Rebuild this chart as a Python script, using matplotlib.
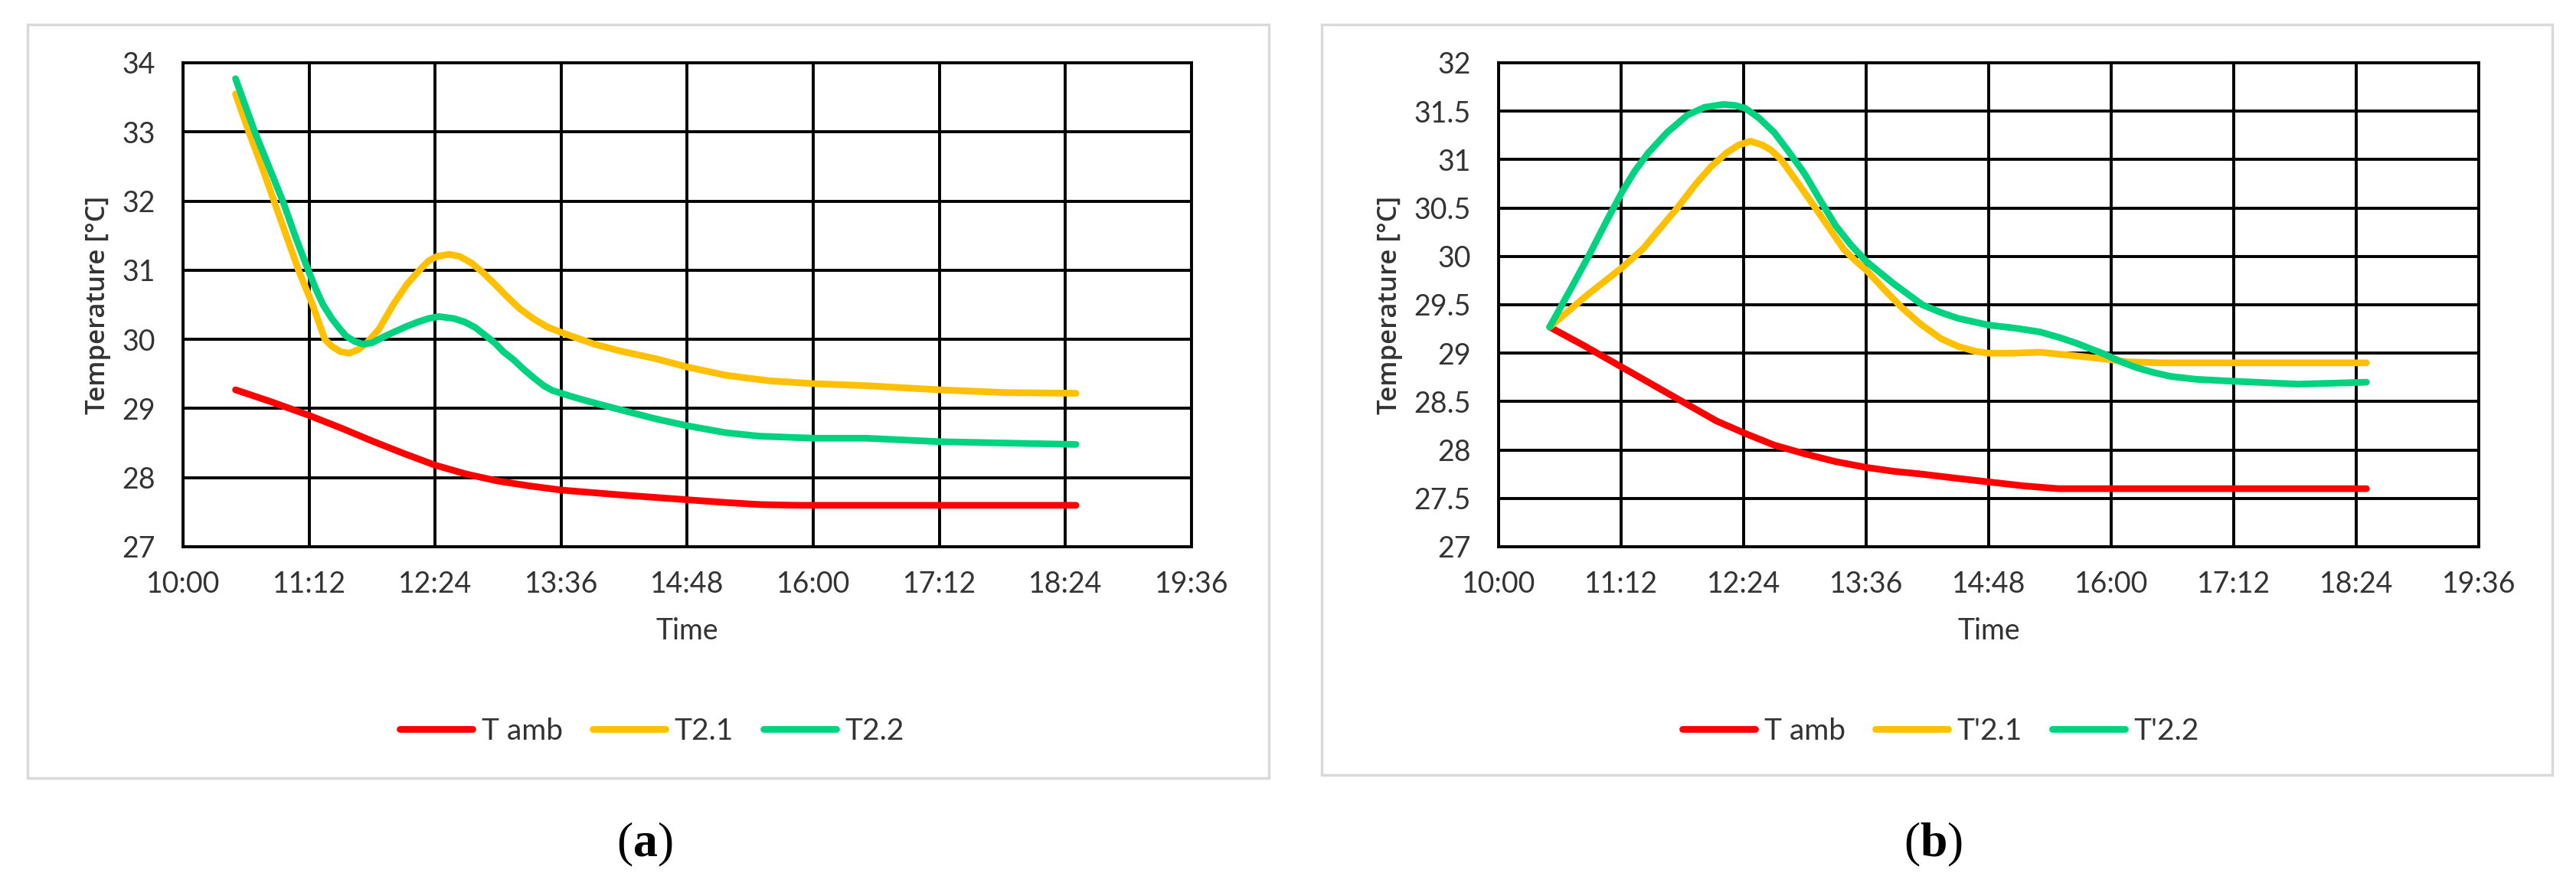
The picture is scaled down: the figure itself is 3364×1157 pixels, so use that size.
import matplotlib.pyplot as plt
from matplotlib.patches import Rectangle

# ==========================
# DATA (minutes after 10:00, temperature in degC)
# ==========================
TIME_TICKS = [0, 72, 144, 216, 288, 360, 432, 504, 576]
TIME_LABELS = ["10:00", "11:12", "12:24", "13:36", "14:48", "16:00", "17:12", "18:24", "19:36"]

# panel (a)
A_AMB_T = [30, 50, 72, 90, 108, 126, 144, 162, 180, 198, 216, 250, 288, 310, 330, 350, 420, 510]
A_AMB_V = [29.27, 29.1, 28.9, 28.72, 28.53, 28.35, 28.18, 28.05, 27.95, 27.88, 27.82, 27.75, 27.68,
           27.64, 27.61, 27.6, 27.6, 27.6]

A_T21_T = [30, 37.6, 45, 52, 59, 66, 74, 81, 85, 90, 95, 100, 105, 112, 120, 128, 135, 140, 145, 152,
           158, 165, 172, 178, 185, 192, 200, 208, 216, 235, 250, 270, 288, 310, 335, 360, 390, 432, 470, 510]
A_T21_V = [33.55, 33.0, 32.5, 32.0, 31.5, 31.0, 30.5, 30.0, 29.9, 29.82, 29.8, 29.85, 29.95, 30.15, 30.5,
           30.8, 31.0, 31.13, 31.2, 31.23, 31.2, 31.1, 30.95, 30.8, 30.62, 30.45, 30.3, 30.18, 30.1, 29.93,
           29.83, 29.72, 29.6, 29.48, 29.4, 29.36, 29.33, 29.27, 29.23, 29.22]

A_T22_T = [30, 41, 49, 57, 64, 71.5, 76, 80, 85, 89, 93, 98, 103, 108, 114, 120, 127, 134, 140, 146,
           155, 161, 167, 172, 178, 183, 189, 194, 200, 206, 211, 216, 225, 235, 250, 270, 288, 310, 329,
           360, 390, 432, 470, 510]
A_T22_V = [33.77, 33.0, 32.5, 32.0, 31.5, 31.0, 30.72, 30.5, 30.3, 30.17, 30.05, 29.97, 29.93, 29.95,
           30.03, 30.1, 30.18, 30.25, 30.3, 30.33, 30.3, 30.25, 30.17, 30.07, 29.95, 29.82, 29.7, 29.58,
           29.45, 29.33, 29.26, 29.22, 29.15, 29.08, 28.98, 28.85, 28.75, 28.65, 28.6, 28.57, 28.57, 28.52,
           28.5, 28.48]

# panel (b)
B_AMB_T = [30, 50, 73, 92, 111, 128, 145, 162, 180, 198, 216, 232, 249, 268, 288, 308, 329, 420, 510]
B_AMB_V = [29.27, 29.08, 28.85, 28.66, 28.47, 28.3, 28.17, 28.05, 27.96, 27.88, 27.82, 27.78, 27.75,
           27.71, 27.67, 27.63, 27.6, 27.6, 27.6]

B_T21_T = [30, 52, 73, 85, 93, 105, 116, 125, 134, 141, 148, 155, 160, 166, 175, 185, 194, 203, 210,
           216, 226, 237, 248, 260, 270, 280, 288, 303, 318, 335, 356, 370, 390, 510]
B_T21_V = [29.27, 29.6, 29.89, 30.08, 30.25, 30.5, 30.75, 30.93, 31.07, 31.15, 31.19, 31.15, 31.1, 31.0,
           30.78, 30.53, 30.3, 30.07, 29.95, 29.86, 29.67, 29.47, 29.3, 29.15, 29.07, 29.02, 29.0, 29.0,
           29.01, 28.98, 28.94, 28.91, 28.9, 28.9]

B_T22_T = [30, 42, 54, 63, 73, 80, 88, 99, 111, 121, 132, 139, 145, 153, 162, 171, 180, 189, 198, 207,
           216, 232, 249, 260, 270, 288, 303, 318, 330, 340, 356, 366, 375, 385, 395, 410, 432, 470, 510]
B_T22_V = [29.27, 29.65, 30.04, 30.35, 30.68, 30.88, 31.07, 31.28, 31.46, 31.54, 31.57, 31.56, 31.53,
           31.43, 31.28, 31.07, 30.85, 30.58, 30.32, 30.12, 29.95, 29.72, 29.5, 29.42, 29.36, 29.29, 29.26,
           29.22, 29.16, 29.1, 28.99, 28.91, 28.85, 28.8, 28.76, 28.73, 28.71, 28.68, 28.7]

A_YTICKS = [27, 28, 29, 30, 31, 32, 33, 34]
A_YLABELS = ["27", "28", "29", "30", "31", "32", "33", "34"]
B_YTICKS = [27, 27.5, 28, 28.5, 29, 29.5, 30, 30.5, 31, 31.5, 32]
B_YLABELS = ["27", "27.5", "28", "28.5", "29", "29.5", "30", "30.5", "31", "31.5", "32"]

A_NAMES = ["T amb", "T2.1", "T2.2"]
B_NAMES = ["T amb", "T'2.1", "T'2.2"]
COLORS = ["#FF0000", "#FFC000", "#00D27F"]

# ==========================
# LAYOUT (pixel boxes in the 3364x1157 image)
# ==========================
W, H = 3364, 1157
plt.rcParams['mathtext.fontset'] = 'custom'
plt.rcParams['mathtext.rm'] = 'Liberation Serif'
plt.rcParams['mathtext.bf'] = 'Liberation Serif:bold'

TXT = '#333333'
TICK_FONT = ['Lato', 'DejaVu Sans']

fig = plt.figure(figsize=(W / 100, H / 100), dpi=100)


def fx(px):
    return px / W


def fy(py):
    return 1 - py / H


def draw_panel(ax_box, frame_box, series, names, yticks, ylabels, tag, tag_x):
    # outer light-grey chart frame
    x0, y0, x1, y1 = frame_box
    fig.patches.append(Rectangle((fx(x0), fy(y1)), fx(x1 - x0), (y1 - y0) / H,
                                 transform=fig.transFigure, fill=False,
                                 edgecolor='#d9d9d9', linewidth=2.5))

    l, t, r, b = ax_box
    ax = fig.add_axes([fx(l), fy(b), fx(r - l), (b - t) / H])
    for (tt, vv), name, c in zip(series, names, COLORS):
        ax.plot(tt, vv, color=c, linewidth=6.3, solid_capstyle='round',
                solid_joinstyle='round', label=name, zorder=3)

    ax.set_xlim(0, 576)
    ax.set_ylim(yticks[0], yticks[-1])
    ax.set_xticks(TIME_TICKS)
    ax.set_xticklabels(TIME_LABELS)
    ax.set_yticks(yticks)
    ax.set_yticklabels(ylabels)
    ax.grid(True, color='black', linewidth=2.8)
    for sp in ax.spines.values():
        sp.set_color('black')
        sp.set_linewidth(2.8)
    ax.tick_params(length=0, pad=26, labelsize=27, labelcolor=TXT)
    ax.tick_params(axis='x', pad=22)
    for lab in ax.get_xticklabels() + ax.get_yticklabels():
        lab.set_family(TICK_FONT)

    ax.set_xlabel('Time', fontsize=27, color=TXT, family=TICK_FONT, labelpad=18)
    ax.set_ylabel('Temperature [°C]', fontsize=25, color=TXT, fontweight='semibold',
                  family=['Open Sans', 'DejaVu Sans'], labelpad=10)

    # legend centred under the chart frame
    cx = (x0 + x1) / 2
    fig.legend(handles=ax.get_lines(), labels=names, loc='center',
               bbox_to_anchor=(fx(cx + 5), fy(955)), ncol=3, frameon=False,
               prop={'family': TICK_FONT, 'size': 28}, labelcolor=TXT,
               handlelength=2.45, handletextpad=0.3, columnspacing=1.0)

    fig.text(fx(tag_x), fy(1103), r'($\mathbf{' + tag + '}$)', ha='center', va='center',
             fontsize=46, family='Liberation Serif')
    return ax


draw_panel((239, 82, 1556, 714), (36, 32, 1657, 1016),
           [(A_AMB_T, A_AMB_V), (A_T21_T, A_T21_V), (A_T22_T, A_T22_V)],
           A_NAMES, A_YTICKS, A_YLABELS, 'a', 842)

draw_panel((1957, 82, 3237, 714), (1726, 32, 3333, 1012),
           [(B_AMB_T, B_AMB_V), (B_T21_T, B_T21_V), (B_T22_T, B_T22_V)],
           B_NAMES, B_YTICKS, B_YLABELS, 'b', 2525)

fig.savefig('out.png', dpi=100, facecolor='white')
